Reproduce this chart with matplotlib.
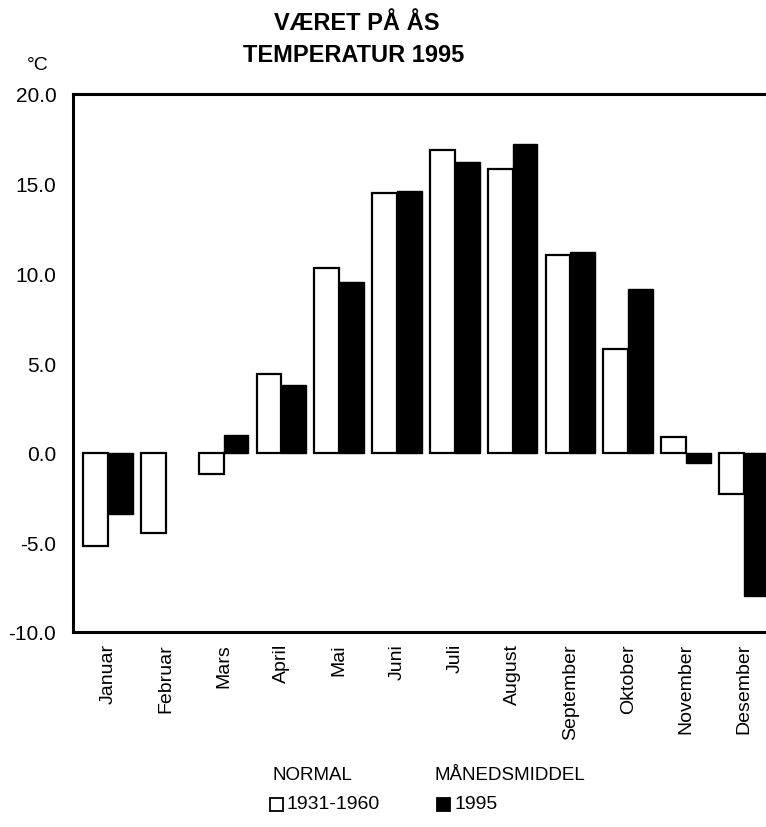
import numpy as np
import matplotlib
matplotlib.use("Agg")
import matplotlib.pyplot as plt
from matplotlib.patches import Rectangle

months = ["Januar", "Februar", "Mars", "April", "Mai", "Juni", "Juli",
          "August", "September", "Oktober", "November", "Desember"]
normal_1931_1960 = [-5.2, -4.5, -1.2, 4.4, 10.3, 14.5, 16.9, 15.8, 11.0, 5.8, 0.9, -2.3]
mean_1995 = [-3.4, np.nan, 1.0, 3.8, 9.5, 14.6, 16.2, 17.2, 11.2, 9.1, -0.6, -8.0]
yticks = [-10, -5, 0, 5, 10, 15, 20]
ytick_labels = ["-10.0", "-5.0", "0.0", "5.0", "10.0", "15.0", "20.0"]

plt.rcParams['font.family'] = ['Liberation Sans', 'DejaVu Sans']

W, H = 766, 828
fig = plt.figure(figsize=(W / 100, H / 100), dpi=100)
left_px, right_px, top_px, bot_px = 73, 790, 95, 633
ax = fig.add_axes([left_px / W, 1 - bot_px / H, (right_px - left_px) / W, (bot_px - top_px) / H])

x = np.arange(len(months))
bw = 0.43
ax.bar(x - bw / 2, normal_1931_1960, width=bw, facecolor='white', edgecolor='black', linewidth=1.6)
ax.bar(x + bw / 2, mean_1995, width=bw, facecolor='black', edgecolor='black', linewidth=1.0)

spacing = 57.8
c0 = 108
ax.set_xlim((left_px - c0) / spacing, (right_px - c0) / spacing)
ax.set_ylim(-10, 20)
ax.set_yticks(yticks)
ax.set_yticklabels(ytick_labels, fontsize=15)
ax.set_xticks(x)
ax.set_xticklabels(months, rotation=90, fontsize=14)
ax.tick_params(axis='y', length=0, pad=12)
ax.tick_params(axis='x', length=0, pad=8)
for s in ['left', 'top', 'bottom']:
    ax.spines[s].set_linewidth(2.2)
ax.spines['right'].set_visible(False)

fig.text(357 / W, 1 - 24 / H, "VÆRET PÅ ÅS", ha='center', va='center', fontsize=17, fontweight='bold')
fig.text(354 / W, 1 - 55 / H, "TEMPERATUR 1995", ha='center', va='center', fontsize=17, fontweight='bold')
fig.text(38 / W, 1 - 66 / H, "°C", ha='center', va='center', fontsize=14)

# legend
fig.text(272 / W, 1 - 776 / H, "NORMAL", ha='left', va='center', fontsize=13.5)
fig.text(435 / W, 1 - 776 / H, "MÅNEDSMIDDEL", ha='left', va='center', fontsize=13.5)
fig.patches.append(Rectangle((270 / W, 1 - 812 / H), 13 / W, 13 / H, transform=fig.transFigure,
                             facecolor='white', edgecolor='black', linewidth=1.3))
fig.text(287 / W, 1 - 805 / H, "1931-1960", ha='left', va='center', fontsize=14)
fig.patches.append(Rectangle((437 / W, 1 - 812 / H), 13 / W, 13 / H, transform=fig.transFigure,
                             facecolor='black', edgecolor='black', linewidth=1.3))
fig.text(454 / W, 1 - 805 / H, "1995", ha='left', va='center', fontsize=14)

fig.savefig("out.png", dpi=100)
